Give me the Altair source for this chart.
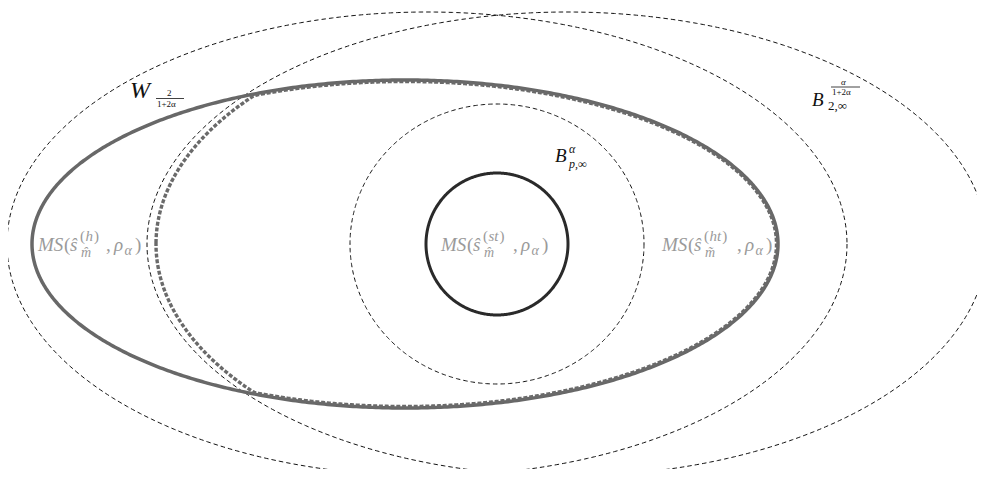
import numpy as np
import pandas as pd
import altair as alt

# ---- canvas (page pixel coordinates) ----
PAGE_W, PAGE_H, MARGIN = 985, 477, 8
PW, PH = PAGE_W - 2 * MARGIN, PAGE_H - 2 * MARGIN

# ---- ellipse parameters (page pixels) ----
ell_name = ["outer_W", "outer_B", "ms_h", "bp", "st", "ht_clip", "ht_inner"]
ell_cx = [427, 567, 405, 497, 497, 567, 405]
ell_cy = [244, 244, 244, 244, 244, 244, 244]
ell_rx = [420, 420, 373, 147, 71, 411, 371.5]
ell_ry = [232, 232, 164, 140, 71, 229, 162.5]

# ---- label texts ----
ms_labels = ["h", "st", "ht"]
ms_sup_w = [7.5, 10.0, 11.7]
ms_subs = ["m\u0302", "m\u0302", "m\u0303"]
ms_anchor_x = [38, 441, 662]
ms_comma_dx = [68, 72, 75]
ms_baseline = 251


def ellipse(i, n=721):
    t = np.linspace(0, 2 * np.pi, n)
    return ell_cx[i] + ell_rx[i] * np.cos(t), ell_cy[i] + ell_ry[i] * np.sin(t)


def inside(i, x, y):
    return ((x - ell_cx[i]) / ell_rx[i]) ** 2 + ((y - ell_cy[i]) / ell_ry[i]) ** 2 <= 1.0


idx = {n: k for k, n in enumerate(ell_name)}
rows = []
for name in ["outer_W", "outer_B", "ms_h", "bp", "st"]:
    x, y = ellipse(idx[name])
    for k, (a, b) in enumerate(zip(x, y)):
        rows.append({"shape": name, "x": a, "y": b, "o": k})

# MS(ht) = intersection of (slightly inset) MS(h) ellipse and clip ellipse
xa, ya = ellipse(idx["ht_inner"], 1441)
xb, yb = ellipse(idx["ht_clip"], 1441)
ma = inside(idx["ht_clip"], xa, ya)
mb = inside(idx["ht_inner"], xb, yb)
px = np.concatenate([xa[ma], xb[mb]])
py = np.concatenate([ya[ma], yb[mb]])
c0x, c0y = 470.0, 244.0
order = np.argsort(np.arctan2(py - c0y, px - c0x))
px, py = px[order], py[order]
px = np.append(px, px[0])
py = np.append(py, py[0])
for k, (a, b) in enumerate(zip(px, py)):
    rows.append({"shape": "ms_ht", "x": a, "y": b, "o": k})

df = pd.DataFrame(rows)

xs = alt.Scale(domain=[MARGIN, PAGE_W - MARGIN])
ys = alt.Scale(domain=[MARGIN, PAGE_H - MARGIN], reverse=True)
X = lambda f="x": alt.X(f"{f}:Q", scale=xs, axis=None)
Y = lambda f="y": alt.Y(f"{f}:Q", scale=ys, axis=None)


def line_layer(shapes, color, width, dash=None):
    kw = dict(color=color, strokeWidth=width, strokeCap="butt")
    if dash:
        kw["strokeDash"] = dash
    return (
        alt.Chart(df)
        .transform_filter(alt.FieldOneOfPredicate(field="shape", oneOf=shapes))
        .mark_line(**kw)
        .encode(x=X(), y=Y(), detail="shape:N", order="o:Q")
    )


thin = line_layer(["outer_W", "outer_B", "bp"], "#111111", 1, [4.5, 3])
ms_h = line_layer(["ms_h"], "#686868", 3.5)
ms_ht = line_layer(["ms_ht"], "#6a6a6a", 3.4, [4, 1.8])
st = line_layer(["st"], "#2a2a2a", 3)

# ---- text pieces ----
tp = []


def piece(x, y, text, size, color, italic=True):
    tp.append({"x": x, "y": y, "t": text, "s": size, "c": color, "it": "i" if italic else "u"})


grey = "#9a9a9a"
for lab, sw, sub, ax, cdx in zip(ms_labels, ms_sup_w, ms_subs, ms_anchor_x, ms_comma_dx):
    b = ms_baseline
    piece(ax, b, "MS", 19, grey)
    piece(ax + 26, b, "(", 19, grey, False)
    piece(ax + 32, b, "\u015d", 19, grey)
    piece(ax + 42, b - 10, "(", 15, grey, False)
    piece(ax + 47.5, b - 10, lab, 15, grey)
    piece(ax + 48.5 + sw, b - 10, ")", 15, grey, False)
    piece(ax + 43, b + 6, sub, 14, grey)
    piece(ax + cdx, b, ",", 19, grey, False)
    piece(ax + cdx + 8, b, "\u03c1", 19, grey)
    piece(ax + cdx + 18.5, b + 4, "\u03b1", 14, grey)
    piece(ax + cdx + 29, b, ")", 19, grey, False)

black = "#111111"
# W_{2/(1+2a)}
piece(130, 98, "W", 24, black)
piece(167, 96, "2", 9, black, False)
piece(157, 107, "1+2\u03b1", 9, black, False)
# B_{2,inf}^{a/(1+2a)}
piece(812, 106, "B", 19, black)
piece(828, 110, "2,\u221e", 13, black, False)
piece(841, 85, "\u03b1", 9, black)
piece(832, 95, "1+2\u03b1", 9, black, False)
# B_{p,inf}^{a}
piece(555, 162, "B", 19, black)
piece(569, 153, "\u03b1", 12, black)
piece(569, 168, "p,\u221e", 12, black)

tdf = pd.DataFrame(tp)


def text_layer(style, font_style):
    return (
        alt.Chart(tdf)
        .transform_filter(alt.datum.it == style)
        .mark_text(align="left", baseline="alphabetic", font="Liberation Serif",
                   fontStyle=font_style)
        .encode(x=X(), y=Y(), text="t:N",
                size=alt.Size("s:Q", scale=None),
                color=alt.Color("c:N", scale=None))
    )


texts_i = text_layer("i", "italic")
texts_u = text_layer("u", "normal")

# fraction bars
bars = pd.DataFrame({"x": [156, 831], "x2": [184, 860], "y": [98.5, 87]})
bar_layer = (
    alt.Chart(bars)
    .mark_rule(color=black, strokeWidth=0.8)
    .encode(x=X(), x2="x2:Q", y=Y())
)

chart = (
    alt.layer(thin, ms_h, ms_ht, st, texts_i, texts_u, bar_layer)
    .properties(width=PW, height=PH, padding=0, background="white",
                autosize=alt.AutoSizeParams(type="none"))
    .configure_view(strokeWidth=0, stroke="transparent")
)

chart.save("out.html", embed_options={"renderer": "svg", "actions": False})
